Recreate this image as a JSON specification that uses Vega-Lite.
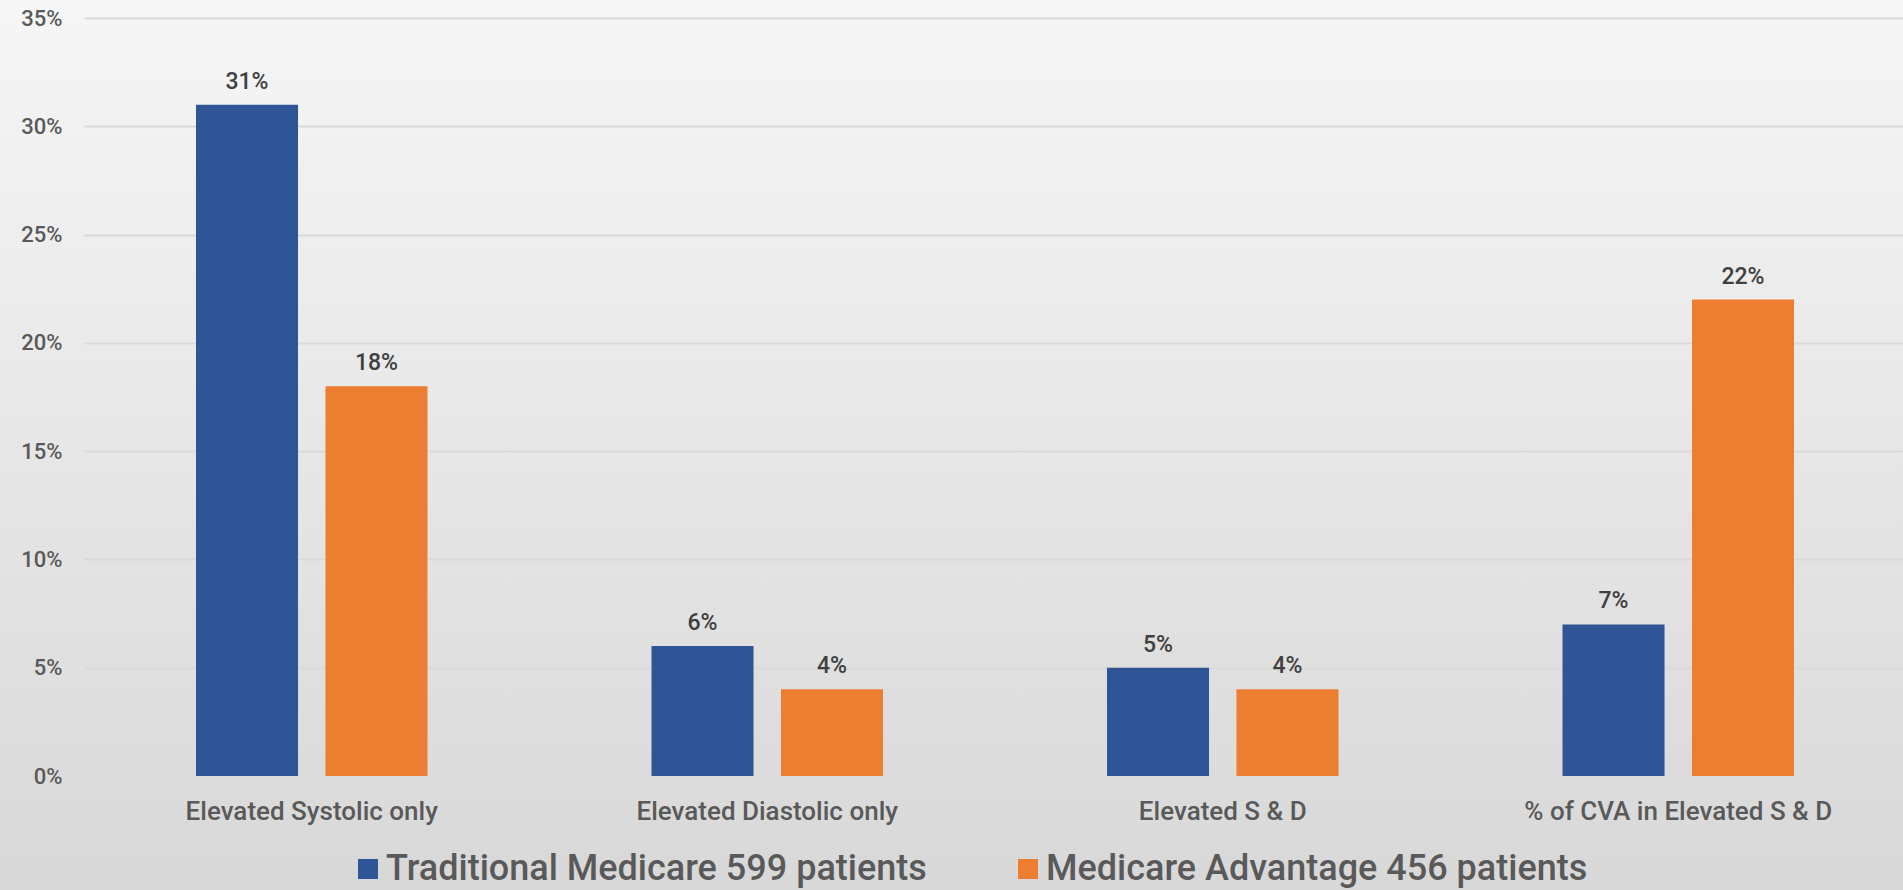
{
  "$schema": "https://vega.github.io/schema/vega-lite/v6.json",
  "width": 1903,
  "height": 890,
  "padding": 0,
  "autosize": {"type": "none"},
  "background": "#d9d9d9",
  "config": {
    "font": "Roboto",
    "view": {
      "stroke": null,
      "fill": {
        "gradient": "linear",
        "x1": 0, "y1": 0, "x2": 0, "y2": 1,
        "stops": [
          {"offset": 0, "color": "#f6f6f6"},
          {"offset": 1, "color": "#d8d8d8"}
        ]
      }
    }
  },
  "data": {
    "values": [
      {"category": "Elevated Systolic only", "plan": "Traditional Medicare 599 patients", "pct": 0.31},
      {"category": "Elevated Systolic only", "plan": "Medicare Advantage 456 patients", "pct": 0.18},
      {"category": "Elevated Diastolic only", "plan": "Traditional Medicare 599 patients", "pct": 0.06},
      {"category": "Elevated Diastolic only", "plan": "Medicare Advantage 456 patients", "pct": 0.04},
      {"category": "Elevated S & D", "plan": "Traditional Medicare 599 patients", "pct": 0.05},
      {"category": "Elevated S & D", "plan": "Medicare Advantage 456 patients", "pct": 0.04},
      {"category": "% of CVA in Elevated S & D", "plan": "Traditional Medicare 599 patients", "pct": 0.07},
      {"category": "% of CVA in Elevated S & D", "plan": "Medicare Advantage 456 patients", "pct": 0.22}
    ]
  },
  "encoding": {
    "x": {
      "field": "category",
      "type": "nominal",
      "sort": ["Elevated Systolic only", "Elevated Diastolic only", "Elevated S & D", "% of CVA in Elevated S & D"],
      "scale": {"range": [84, 1906], "paddingInner": 0.4918, "paddingOuter": 0.2459},
      "axis": {
        "title": null,
        "orient": "bottom",
        "offset": -114,
        "domain": false,
        "ticks": false,
        "tickSize": 0,
        "grid": false,
        "labelAngle": 0,
        "labelPadding": 43,
        "labelBaseline": "alphabetic",
        "labelFontSize": 26,
        "labelFontWeight": 500,
        "labelColor": "#595959",
        "labelLimit": 0
      }
    },
    "xOffset": {
      "field": "plan",
      "type": "nominal",
      "sort": ["Traditional Medicare 599 patients", "Medicare Advantage 456 patients"],
      "scale": {"paddingInner": 0.212, "paddingOuter": 0}
    },
    "y": {
      "field": "pct",
      "type": "quantitative",
      "scale": {"domain": [0, 0.35], "range": [776, 18], "nice": false, "zero": true},
      "axis": {
        "title": null,
        "orient": "left",
        "offset": -84,
        "domain": false,
        "ticks": false,
        "tickSize": 0,
        "values": [0, 0.05, 0.1, 0.15, 0.2, 0.25, 0.3, 0.35],
        "format": ".0%",
        "labelPadding": 22,
        "labelFontSize": 22,
        "labelFontWeight": 500,
        "labelColor": "#595959",
        "grid": true,
        "gridColor": "#d9d9d9",
        "gridWidth": 2
      }
    }
  },
  "layer": [
    {
      "mark": {"type": "bar"},
      "encoding": {
        "color": {
          "field": "plan",
          "type": "nominal",
          "sort": ["Traditional Medicare 599 patients", "Medicare Advantage 456 patients"],
          "scale": {"range": ["#2F5597", "#ED7D31"]},
          "legend": {
            "title": null,
            "orient": "none",
            "direction": "horizontal",
            "legendX": 350,
            "legendY": 851,
            "padding": 0,
            "symbolType": "square",
            "symbolSize": 400,
            "symbolStrokeWidth": 0,
            "labelFontSize": 36,
            "labelFontWeight": 500,
            "labelColor": "#595959",
            "labelOffset": 0,
            "labelLimit": 0,
            "columnPadding": 83
          }
        }
      }
    },
    {
      "mark": {"type": "text", "baseline": "alphabetic", "dy": -16, "fontSize": 23, "fontWeight": 500, "color": "#404040"},
      "encoding": {
        "text": {"field": "pct", "type": "quantitative", "format": ".0%"}
      }
    }
  ]
}
